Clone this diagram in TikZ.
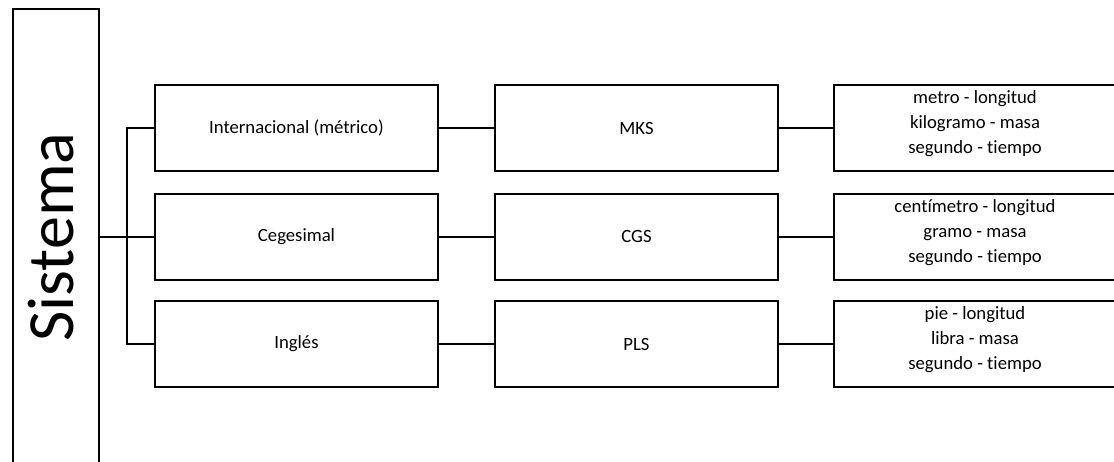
\documentclass[tikz,border=0pt]{standalone}
\usepackage{fontspec}
\setmainfont{Carlito}[Ligatures=NoCommon]
\begin{document}
\begin{tikzpicture}[x=1pt,y=-1pt,
  txt/.style={font=\fontsize{18.7}{25}\selectfont, align=center},
  box/.style={draw, line width=2pt, minimum height=86pt, inner sep=0pt, txt},
  wbox/.style={box, minimum width=283pt},
  unitbox/.style={box, minimum width=282pt},
  link/.style={line width=2pt}]
\useasboundingbox (0,0) rectangle (1114,461);
\begin{scope}
\clip (0,0) rectangle (1114,461);
% title column
\node[draw, line width=2pt, minimum width=86pt, minimum height=456pt, inner sep=0pt] (sis) at (56,237) {};
\node[rotate=90, font=\fontsize{66}{70}\selectfont, inner sep=0pt] (sistxt) at (51,237) {Sistema};
% system names
\node[wbox] (i1) at (296.5,128) {Internacional (métrico)};
\node[wbox] (i2) at (296.5,236.5) {Cegesimal};
\node[wbox] (i3) at (296.5,344) {Inglés};
% abbreviations
\node[wbox] (a1) at (636.5,128) {MKS};
\node[wbox] (a2) at (636.5,236.5) {CGS};
\node[wbox] (a3) at (636.5,344) {PLS};
% base units
\node[unitbox, label={[txt, yshift=4pt]center:{metro - longitud\\kilogramo - masa\\segundo - tiempo}}] (u1) at (975,128) {};
\node[unitbox, label={[txt, yshift=4pt]center:{centímetro - longitud\\gramo - masa\\segundo - tiempo}}] (u2) at (975,236.5) {};
\node[unitbox, label={[txt, yshift=4pt]center:{pie - longitud\\libra - masa\\segundo - tiempo}}] (u3) at (975,344) {};
% bracket
\coordinate (jn) at (127,236.5);
\draw[link] (sis.east |- jn) -- (i2.west);
\draw[link] (i1.west) -| (jn) |- (i3.west);
% row links
\foreach \r in {1,2,3} {
  \draw[link] (i\r) -- (a\r);
  \draw[link] (a\r) -- (u\r);
}
\end{scope}
\end{tikzpicture}
\end{document}
